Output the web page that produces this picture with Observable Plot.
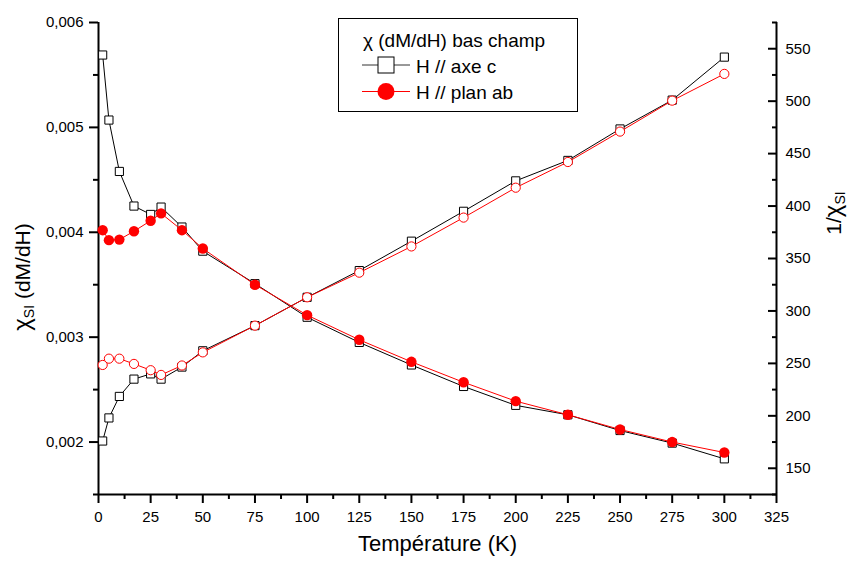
<!DOCTYPE html>
<html><head><meta charset="utf-8">
<script src="https://cdn.jsdelivr.net/npm/d3@7"></script>
<script src="https://cdn.jsdelivr.net/npm/@observablehq/plot@0.6"></script>
<style>
body{margin:0;background:#fff;}
#wrap{position:relative;width:853px;height:563px;background:#fff;}
#wrap svg{position:absolute;left:0;top:0;}
</style></head><body><div id="wrap"></div>
<script>
// Data
const temperatures = [2, 5, 10, 17, 25, 30, 40, 50, 75, 100, 125, 150, 175, 200, 225, 250, 275, 300];
const chiAxeC   = [0.00569, 0.00507, 0.00458, 0.00425, 0.00417, 0.00424, 0.00405, 0.00382, 0.00351, 0.00319, 0.00295, 0.002735, 0.00253, 0.00235, 0.00226, 0.00211, 0.00199, 0.00184];
const chiPlanAb = [0.00402, 0.003925, 0.00393, 0.00401, 0.00411, 0.00418, 0.00402, 0.003845, 0.0035, 0.00321, 0.002975, 0.002765, 0.00257, 0.00239, 0.00226, 0.00212, 0.002, 0.0019];
const invAxeC   = [176, 198, 218.5, 235, 240, 235, 246.5, 262, 286, 313, 338.5, 366.5, 395, 424, 443.5, 473.5, 501, 542];
const invPlanAb = [248.5, 254.5, 254.5, 249.5, 243.5, 239, 248, 260.5, 286, 313, 336.5, 361.5, 389, 417.5, 442, 471, 500.5, 526];

const xDomain = [0, 325];
const xMajor = [0, 25, 50, 75, 100, 125, 150, 175, 200, 225, 250, 275, 300, 325];
const xMinor = [12.5, 37.5, 62.5, 87.5, 112.5, 137.5, 162.5, 187.5, 212.5, 237.5, 262.5, 287.5, 312.5];
const yLeftDomain = [0.0015, 0.006];
const yLeftMajor = [0.002, 0.003, 0.004, 0.005, 0.006];
const yLeftMinor = [0.0015, 0.0025, 0.0035, 0.0045, 0.0055];
const yRightDomain = [125, 575];
const yRightMajor = [150, 200, 250, 300, 350, 400, 450, 500, 550];
const yRightMinor = [125, 175, 225, 275, 325, 375, 425, 475, 525, 575];

const xTitle = "Température (K)";
const legendTitle = "χ (dM/dH) bas champ";
const seriesNames = ["H // axe c", "H // plan ab"];

const rowsC = temperatures.map((T, i) => ({T, chi: chiAxeC[i], inv: invAxeC[i]}));
const rowsAb = temperatures.map((T, i) => ({T, chi: chiPlanAb[i], inv: invPlanAb[i]}));

const font = "'Liberation Sans', Arial, Helvetica, sans-serif";
const common = {
  width: 853, height: 563,
  marginLeft: 98, marginRight: 77, marginTop: 22, marginBottom: 69,
  style: {fontFamily: font, fontSize: "15px", color: "black", background: "transparent", overflow: "visible"}
};
const fmt = d => d3.format(".3f")(d).replace(".", ",");

const plotA = Plot.plot({
  ...common,
  x: {domain: xDomain},
  y: {domain: yLeftDomain},
  marks: [
    Plot.ruleX([xDomain[0]], {stroke: "black", strokeWidth: 2}),
    Plot.ruleY([yLeftDomain[0]], {stroke: "black", strokeWidth: 2}),
    Plot.axisX(xMajor, {tickSize: 9, tickPadding: 8, strokeWidth: 2, label: null, fill: "black", fontSize: 15}),
    Plot.axisX(xMinor, {tickSize: 5, tickFormat: () => "", strokeWidth: 2, label: null}),
    Plot.axisY(yLeftMajor, {anchor: "left", tickSize: 9, tickPadding: 6, tickFormat: fmt, strokeWidth: 2, label: null, fill: "black", fontSize: 15}),
    Plot.axisY(yLeftMinor, {anchor: "left", tickSize: 5, tickFormat: () => "", strokeWidth: 2, label: null}),
    Plot.line(rowsC, {x: "T", y: "chi", stroke: "black", strokeWidth: 1}),
    Plot.dot(rowsC, {x: "T", y: "chi", symbol: "square", r: 4.6, fill: "white", stroke: "black", strokeWidth: 1}),
    Plot.line(rowsAb, {x: "T", y: "chi", stroke: "red", strokeWidth: 1}),
    Plot.dot(rowsAb, {x: "T", y: "chi", r: 5.2, fill: "red", stroke: "none"}),
    Plot.text([xTitle], {frameAnchor: "bottom", dy: 56, fontSize: 22, fill: "black"})
  ]
});

const plotB = Plot.plot({
  ...common,
  x: {domain: xDomain, axis: null},
  y: {domain: yRightDomain},
  marks: [
    Plot.ruleX([xDomain[1]], {stroke: "black", strokeWidth: 2}),
    Plot.axisY(yRightMajor, {anchor: "right", tickSize: -9, tickPadding: 18, strokeWidth: 2, label: null, fill: "black", fontSize: 15}),
    Plot.axisY(yRightMinor, {anchor: "right", tickSize: -5, tickFormat: () => "", strokeWidth: 2, label: null}),
    Plot.line(rowsC, {x: "T", y: "inv", stroke: "black", strokeWidth: 1}),
    Plot.dot(rowsC, {x: "T", y: "inv", symbol: "square", r: 4.6, fill: "white", stroke: "black", strokeWidth: 1}),
    Plot.line(rowsAb, {x: "T", y: "inv", stroke: "red", strokeWidth: 1}),
    Plot.dot(rowsAb, {x: "T", y: "inv", r: 4.6, fill: "white", stroke: "red", strokeWidth: 1})
  ]
});

const wrap = document.getElementById("wrap");
wrap.appendChild(plotA);
wrap.appendChild(plotB);

const svg = d3.select(plotB);

// Left axis title
const tl = svg.append("text")
  .attr("transform", "translate(29.5,277) rotate(-90)")
  .attr("text-anchor", "middle").attr("font-family", font).attr("font-size", 21).attr("fill", "black");
tl.append("tspan").attr("font-size", 24).text("χ");
tl.append("tspan").attr("font-size", 14).attr("dy", 4).text("SI");
tl.append("tspan").attr("dy", -4).text(" (dM/dH)");

// Right axis title
const tr = svg.append("text")
  .attr("transform", "translate(841,213) rotate(-90)")
  .attr("text-anchor", "middle").attr("font-family", font).attr("font-size", 21).attr("fill", "black");
tr.append("tspan").text("1/");
tr.append("tspan").attr("font-size", 24).text("χ");
tr.append("tspan").attr("font-size", 14).attr("dy", 4).text("SI");

// Legend
const lg = svg.append("g").attr("font-family", font).attr("font-size", 19).attr("fill", "black").attr("text-anchor", "start");
lg.append("rect").attr("x", 338.5).attr("y", 18.5).attr("width", 239).attr("height", 93)
  .attr("fill", "white").attr("stroke", "black").attr("stroke-width", 1);
lg.append("text").attr("x", 363).attr("y", 47).text(legendTitle);
lg.append("line").attr("x1", 362).attr("x2", 410).attr("y1", 65).attr("y2", 65).attr("stroke", "#333").attr("stroke-width", 1);
lg.append("rect").attr("x", 378).attr("y", 57).attr("width", 16).attr("height", 16).attr("fill", "white").attr("stroke", "black").attr("stroke-width", 1);
lg.append("text").attr("x", 416).attr("y", 72.5).text(seriesNames[0]);
lg.append("line").attr("x1", 362).attr("x2", 410).attr("y1", 91.5).attr("y2", 91.5).attr("stroke", "red").attr("stroke-width", 1);
lg.append("circle").attr("cx", 386).attr("cy", 91.5).attr("r", 8.5).attr("fill", "red");
lg.append("text").attr("x", 416).attr("y", 99).text(seriesNames[1]);
</script>
</body></html>
